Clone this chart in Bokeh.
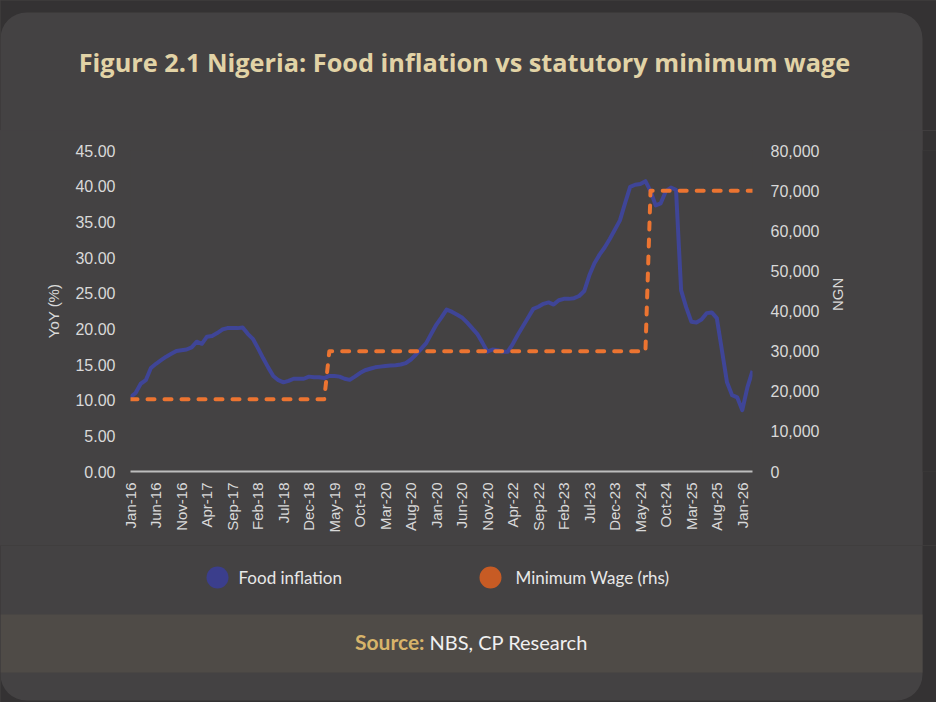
import math
from bokeh.plotting import figure
from bokeh.layouts import column, row
from bokeh.models import (Range1d, LinearAxis, FixedTicker, NumeralTickFormatter,
                          Label, BoxAnnotation)
from bokeh.embed import file_html
from bokeh.resources import INLINE

# ---------------- data ----------------
tick_labels = ["Jan-16", "Jun-16", "Nov-16", "Apr-17", "Sep-17", "Feb-18", "Jul-18",
               "Dec-18", "May-19", "Oct-19", "Mar-20", "Aug-20", "Jan-20", "Jun-20",
               "Nov-20", "Apr-22", "Sep-22", "Feb-23", "Jul-23", "Dec-23", "May-24",
               "Oct-24", "Mar-25", "Aug-25", "Jan-26"]
tick_every = 5  # one label every 5 months

# Food inflation, YoY (%), monthly from Jan-16
food_inflation = [
    10.4, 11.0, 12.3, 12.8, 14.5, 15.1, 15.6, 16.1, 16.5, 16.9,
    17.0, 17.1, 17.4, 18.2, 17.9, 18.9, 19.0, 19.4, 19.9, 20.1,
    20.1, 20.1, 20.2, 19.3, 18.6, 17.3, 15.9, 14.6, 13.4, 12.8,
    12.5, 12.7, 13.0, 13.0, 13.0, 13.3, 13.2, 13.2, 13.1, 13.4,
    13.4, 13.3, 13.0, 12.85, 13.3, 13.8, 14.2, 14.4, 14.6, 14.7,
    14.8, 14.85, 14.9, 15.0, 15.2, 15.7, 16.4, 17.2, 18.0, 19.3,
    20.6, 21.6, 22.7, 22.4, 22.0, 21.6, 20.9, 20.1, 19.3, 18.1,
    16.8, 17.1, 17.0, 16.8, 16.8, 17.9, 19.2, 20.4, 21.6, 22.8,
    23.1, 23.5, 23.7, 23.4, 24.0, 24.2, 24.2, 24.3, 24.6, 25.3,
    27.5, 29.2, 30.4, 31.4, 32.6, 33.9, 35.2, 37.6, 39.9, 40.2,
    40.3, 40.7, 39.3, 37.3, 37.6, 39.3, 39.8, 39.5, 25.4, 23.0,
    21.0, 20.9, 21.3, 22.2, 22.3, 21.5, 17.0, 12.5, 10.7, 10.4,
    8.6, 11.8, 14.1,
]

# Statutory minimum wage (NGN), monthly from Jan-16
min_wage = [18000] * 39 + [30000] * 63 + [70000] * 21

months = list(range(len(food_inflation)))
tick_positions = months[::tick_every][:len(tick_labels)]

left_ticks = [0, 5, 10, 15, 20, 25, 30, 35, 40, 45]
right_ticks = [0, 10000, 20000, 30000, 40000, 50000, 60000, 70000, 80000]

title_text = "Figure 2.1 Nigeria: Food inflation vs statutory minimum wage"
legend_names = ["Food inflation", "Minimum Wage (rhs)"]
source_head = "Source:"
source_text = "NBS, CP Research"

# ---------------- styles ----------------
OUTER = "#343233"
PANEL = "#444243"
BAND = "#4f4b47"
BLUE = "#3f4597"
ORANGE = "#ec7431"
LEG_COLORS = ["#3b3e8c", "#c75b24"]
TXT = "#d9d9d9"
TITLE = "#e2d3a6"
GOLD = "#d8b46a"
SANS = "Liberation Sans"
HEAD = "Lato"

W, H = 936, 702
PANEL_R = 922
HEAD_H = 130
MAIN_H = 415
FOOT_H = H - HEAD_H - MAIN_H
SIDE_W = W - PANEL_R
FOOT_TOP = HEAD_H + MAIN_H


def deco_fig(w, h, fill):
    f = figure(width=w, height=h, output_backend="svg", toolbar_location=None,
               x_range=Range1d(0, w), y_range=Range1d(0, h),
               x_axis_location=None, y_axis_location=None,
               min_border=0, outline_line_color=None,
               background_fill_color=fill, border_fill_color=fill)
    f.grid.visible = False
    return f


def box(left, right, top, bottom, color, radius=0, level="underlay"):
    return BoxAnnotation(left=left, right=right, top=top, bottom=bottom,
                         fill_color=color, fill_alpha=1, line_color=None,
                         border_radius=radius, level=level)


# ---------------- header ----------------
hd = deco_fig(W, HEAD_H, OUTER)
hd.add_layout(box(0, PANEL_R, HEAD_H - 12, -100, PANEL, radius=26))
hd.add_layout(Label(x=464, y=HEAD_H - 61, text=title_text,
                    text_align="center", text_baseline="middle",
                    text_font="Open Sans", text_font_size="25.3px", text_font_style="bold",
                    text_color=TITLE))

# ---------------- main chart ----------------
p = figure(width=PANEL_R, height=MAIN_H, output_backend="svg", toolbar_location=None,
           x_range=Range1d(months[0], months[-1]),
           y_range=Range1d(left_ticks[0], left_ticks[-1]),
           min_border_left=130, min_border_right=170,
           min_border_top=20, min_border_bottom=74,
           background_fill_color=PANEL, border_fill_color=PANEL,
           outline_line_color=None)
p.grid.visible = False
p.extra_y_ranges = {"wage": Range1d(right_ticks[0], right_ticks[-1])}

xa = p.xaxis[0]
xa.ticker = FixedTicker(ticks=tick_positions)
xa.major_label_overrides = {pos: lab for pos, lab in zip(tick_positions, tick_labels)}
xa.major_label_orientation = math.pi / 2
xa.major_label_text_font = SANS
xa.major_label_text_font_size = "15px"
xa.major_label_text_color = TXT
xa.major_tick_line_color = None
xa.minor_tick_line_color = None
xa.major_tick_out = 0
xa.major_label_standoff = 11
xa.axis_line_color = "#bdbdbd"
xa.axis_line_width = 2

ya = p.yaxis[0]
ya.ticker = FixedTicker(ticks=left_ticks)
ya.formatter = NumeralTickFormatter(format="0.00")
ya.axis_label = "YoY (%)"

ra = LinearAxis(y_range_name="wage", ticker=FixedTicker(ticks=right_ticks),
                formatter=NumeralTickFormatter(format="0,0"))
ra.axis_label = "NGN"
p.add_layout(ra, "right")

for ax, stand, lstand in [(ya, 15, 10), (ra, 18, 15)]:
    ax.axis_line_color = None
    ax.major_tick_line_color = None
    ax.minor_tick_line_color = None
    ax.major_tick_out = 0
    ax.major_label_standoff = stand
    ax.major_label_text_font = SANS
    ax.major_label_text_font_size = "16px"
    ax.major_label_text_color = TXT
    ax.axis_label_text_font = SANS
    ax.axis_label_text_font_size = "15px"
    ax.axis_label_text_font_style = "normal"
    ax.axis_label_text_color = TXT
    ax.axis_label_standoff = lstand
try:
    ra.axis_label_orientation = math.pi / 2
except Exception:
    pass

p.line(months, food_inflation, line_color=BLUE, line_width=4, line_join="round")
p.line(months, min_wage, y_range_name="wage", line_color=ORANGE, line_width=4,
       line_dash="7 10", line_cap="round", line_join="round")

side = deco_fig(SIDE_W, MAIN_H, OUTER)

# ---------------- footer: legend + source ----------------
ft = deco_fig(W, FOOT_H, OUTER)
ft.add_layout(box(0, PANEL_R, FOOT_H + 100, FOOT_H - (700 - FOOT_TOP), PANEL, radius=26))
ft.add_layout(box(0, PANEL_R, FOOT_H - (614 - FOOT_TOP), FOOT_H - (672 - FOOT_TOP), BAND))

leg_y = FOOT_H - (577 - FOOT_TOP)
for cx, tx, name, col in zip([217, 490], [238, 515], legend_names, LEG_COLORS):
    ft.add_layout(box(cx - 11, cx + 11, leg_y + 11, leg_y - 11, col, radius=11,
                      level="annotation"))
    ft.add_layout(Label(x=tx, y=leg_y, text=name, text_align="left",
                        text_baseline="middle", text_font=HEAD, text_font_size="17px",
                        text_color="#e8e8e8"))

src_y = FOOT_H - (641 - FOOT_TOP)
ft.add_layout(Label(x=424, y=src_y, text=source_head, text_align="right",
                    text_baseline="middle", text_font=HEAD, text_font_size="21px",
                    text_font_style="bold", text_color=GOLD))
ft.add_layout(Label(x=429, y=src_y, text=source_text, text_align="left",
                    text_baseline="middle", text_font=HEAD, text_font_size="20px",
                    text_color="#f0f0f0"))

mid = row(p, side, styles={"background-color": PANEL})
layout = column(hd, mid, ft, styles={"background-color": PANEL})
open("out.html", "w").write(file_html(layout, INLINE))
